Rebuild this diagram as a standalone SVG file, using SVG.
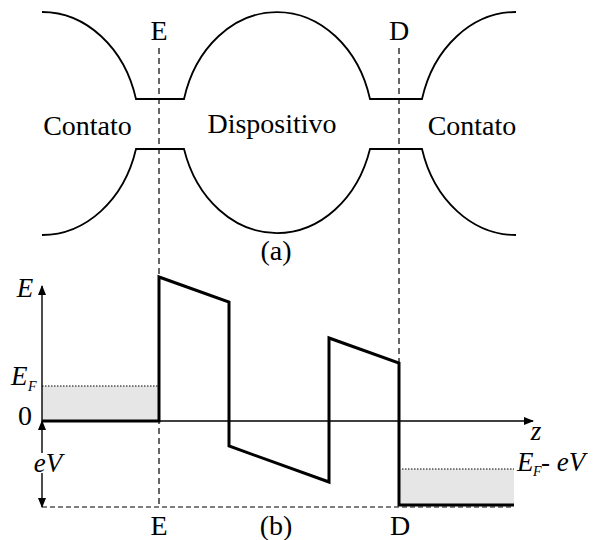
<svg xmlns="http://www.w3.org/2000/svg" width="597" height="540" viewBox="0 0 597 540">
<style>
  text { font-family: 'Liberation Serif', 'Tinos', 'Times New Roman', 'DejaVu Serif', serif; fill: #000; }
  .lbl { font-size: 28px; }
  .it { font-style: italic; font-size: 27px; }
  .sub { font-style: italic; font-size: 14px; }
  .outline { fill: none; stroke: #000; stroke-width: 1.8; }
  .dash { fill: none; stroke: #000; stroke-width: 1.2; stroke-dasharray: 6 4; }
  .dashb { fill: none; stroke: #000; stroke-width: 1.2; stroke-dasharray: 5 3; }
  .axis { fill: none; stroke: #000; stroke-width: 1.4; }
  .thick { fill: none; stroke: #000; stroke-width: 3; stroke-linejoin: miter; }
  .shade { fill: #e6e6e6; stroke: none; }
  .dot { fill: none; stroke: #000; stroke-width: 1; stroke-dasharray: 1.5 1.5; }
</style>
<defs>
  <marker id="ah" markerWidth="10" markerHeight="8" refX="9" refY="4" orient="auto" markerUnits="userSpaceOnUse">
    <path d="M0,0 L10,4 L0,8 Z" fill="#000"/>
  </marker>
</defs>

<!-- (a) device geometry -->
<g id="geometry-top">
  <path class="outline" d="M42,12 A97.4,118 0 0 1 136,99 L184,99 A96.4,118 0 0 1 370,99 L422,99 A97.4,118 0 0 1 516,12"/>
</g>
<g id="geometry-bottom">
  <path class="outline" d="M42,235 A97.7,118 0 0 0 136,149 L184,149 A97.1,118 0 0 0 370,149 L422,149 A97.7,118 0 0 0 516,235"/>
</g>
<g id="label-contato-left"><text class="lbl" x="87.5" y="135" text-anchor="middle" font-family="Liberation Serif, serif">Contato</text></g>
<g id="label-dispositivo"><text class="lbl" x="272" y="133" text-anchor="middle">Dispositivo</text></g>
<g id="label-contato-right"><text class="lbl" x="472" y="135" text-anchor="middle">Contato</text></g>
<g id="label-a"><text class="lbl" x="276" y="260" text-anchor="middle">(a)</text></g>

<!-- reference lines E and D -->
<g id="connectors">
  <line class="dash" x1="159" y1="48" x2="159" y2="507"/>
  <line class="dash" x1="399" y1="48" x2="399" y2="507"/>
  <line class="dashb" x1="42" y1="507" x2="514" y2="507"/>
</g>
<g id="label-E-top"><text class="lbl" x="159" y="40" text-anchor="middle">E</text></g>
<g id="label-D-top"><text class="lbl" x="399" y="40" text-anchor="middle">D</text></g>

<!-- (b) energy diagram -->
<g id="fermi-left">
  <rect class="shade" x="42" y="386" width="117" height="35"/>
  <line class="dot" x1="42" y1="386" x2="159" y2="386"/>
</g>
<g id="fermi-right">
  <rect class="shade" x="399" y="469" width="115" height="36"/>
  <line class="dot" x1="402" y1="469" x2="514" y2="469"/>
</g>

<g id="axes">
  <line class="axis" x1="42" y1="421" x2="42" y2="286" marker-end="url(#ah)"/>
  <line class="axis" x1="42" y1="421" x2="533" y2="421" marker-end="url(#ah)"/>
  <line class="axis" x1="42" y1="453" x2="42" y2="421" marker-end="url(#ah)"/>
  <line class="axis" x1="42" y1="473" x2="42" y2="507" marker-end="url(#ah)"/>
</g>

<g id="potential">
  <polyline class="thick" points="42,421 159,421 159,277 229,302 229,446 329,482 329,338 399,363 399,505 514,505"/>
</g>

<g id="label-E-axis"><text class="it" x="25" y="297" text-anchor="middle">E</text></g>
<g id="label-EF">
  <text class="it" x="11" y="385">E</text>
  <text class="sub" x="28" y="391">F</text>
</g>
<g id="label-zero"><text class="lbl" x="25" y="425" text-anchor="middle">0</text></g>
<g id="label-eV"><text class="it" x="48" y="472" text-anchor="middle">eV</text></g>
<g id="label-z"><text class="it" x="536" y="440" text-anchor="middle">z</text></g>
<g id="label-EF-eV">
  <text class="it" x="517" y="471">E</text>
  <text class="sub" x="533" y="476">F</text>
  <text class="it" x="541" y="471"><tspan font-style="normal">-</tspan> eV</text>
</g>
<g id="label-E-bottom"><text class="lbl" x="159" y="535" text-anchor="middle">E</text></g>
<g id="label-b"><text class="lbl" x="276" y="535" text-anchor="middle">(b)</text></g>
<g id="label-D-bottom"><text class="lbl" x="400" y="535" text-anchor="middle">D</text></g>
</svg>
